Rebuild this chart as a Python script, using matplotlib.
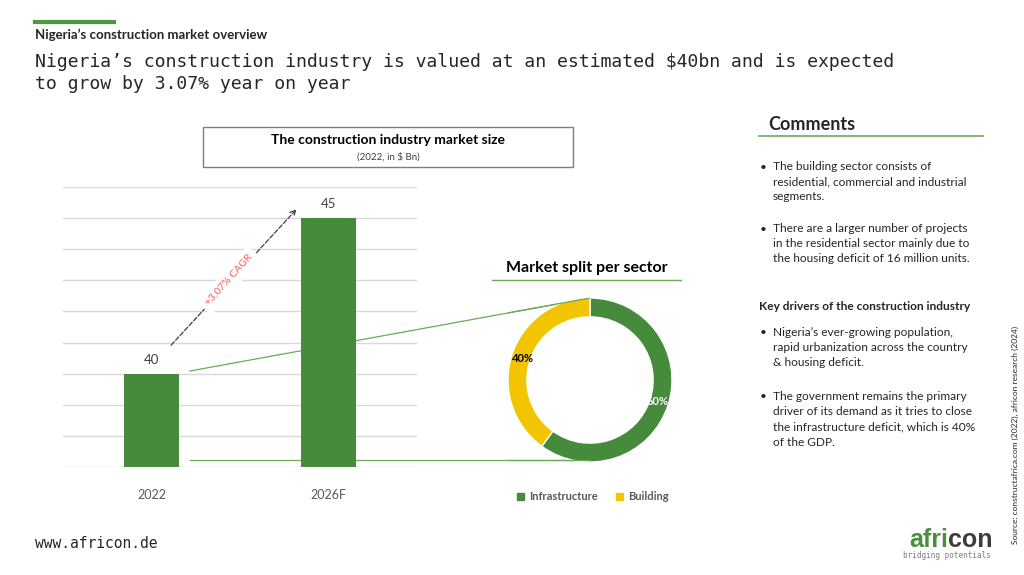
import matplotlib
matplotlib.use("Agg")
import matplotlib.pyplot as plt
from matplotlib.patches import Rectangle, Patch
from matplotlib.lines import Line2D
from matplotlib import font_manager

# data
years = ['2022', '2026F']
market_size = [40, 45]
sectors = ['Infrastructure', 'Building']
sector_share = [60, 40]
cagr_label = '+3.07% CAGR'

comments = [
    "The building sector consists of\nresidential, commercial and industrial\nsegments.",
    "There are a larger number of projects\nin the residential sector mainly due to\nthe housing deficit of 16 million units.",
]
drivers = [
    "Nigeria\u2019s ever-growing population,\nrapid urbanization across the country\n& housing deficit.",
    "The government remains the primary\ndriver of its demand as it tries to close\nthe infrastructure deficit, which is 40%\nof the GDP.",
]

green = '#468a3c'
yellow = '#f2c500'
light_green = '#6aab58'
dark = '#262626'
grey = '#595959'

names = {f.name for f in font_manager.fontManager.ttflist}
body_font = 'Liberation Sans Narrow' if 'Liberation Sans Narrow' in names else 'Lato'
plt.rcParams['font.family'] = [body_font, 'DejaVu Sans']

W, H = 1024, 575
fig = plt.figure(figsize=(W / 100, H / 100), dpi=100)


def fx(x):
    return x / W


def fy(y):
    return 1 - y / H


# header
fig.add_artist(Line2D([fx(35), fx(114)], [fy(22), fy(22)], color='#4a9a3c', lw=3))
fig.text(fx(35), fy(35), 'Nigeria\u2019s construction market overview', fontsize=9.5,
         fontweight='bold', color=dark, va='center')
fig.text(fx(35), fy(73), 'Nigeria\u2019s construction industry is valued at an estimated $40bn and is expected\nto grow by 3.07% year on year',
         fontsize=13.1, family='DejaVu Sans Mono', color=dark, va='center', linespacing=1.22)

# chart title box
fig.add_artist(Rectangle((fx(203), fy(167)), fx(573) - fx(203), fy(127) - fy(167),
                         transform=fig.transFigure, fill=False, edgecolor='#7f7f7f', lw=1))
fig.text(fx(388), fy(140), 'The construction industry market size', fontsize=10,
         fontweight='bold', color='black', ha='center', va='center')
fig.text(fx(388), fy(157), '(2022, in $ Bn)', fontsize=7, color='#404040', ha='center', va='center')

# bar chart
ax = fig.add_axes([fx(63), fy(467), fx(417) - fx(63), fy(187) - fy(467)])
ax.set_facecolor('none')
x = range(len(years))
bars = ax.bar(x, market_size, width=0.31, color=green, zorder=3)
ax.set_ylim(37, 46)
ax.set_xlim(-0.5, 1.5)
ax.set_yticks(range(37, 47))
ax.yaxis.grid(True, color='#d9d9d9', lw=1)
ax.set_axisbelow(True)
ax.tick_params(left=False, bottom=False, labelleft=False, pad=12)
ax.set_xticks(list(x))
ax.set_xticklabels(years, fontsize=9, color=grey)
for s in ax.spines.values():
    s.set_visible(False)
for xi, v in zip(x, market_size):
    ax.text(xi, v + 0.25, str(v), ha='center', va='bottom', fontsize=9.5, color='#404040')

ax.annotate('', xy=(0.83, 45.35), xytext=(0.1, 40.85),
            arrowprops=dict(arrowstyle='->', linestyle='--', color='#404040', lw=0.9), zorder=4)
ax.text(0.44, 43.0, cagr_label, rotation=48, ha='center', va='center', fontsize=7.5,
        color='#ff5a5a', zorder=5,
        bbox=dict(boxstyle='square,pad=0.5', facecolor='white', edgecolor='none'))

# donut
cx, cy, r = 590, 380, 82
ax2 = fig.add_axes([fx(cx - r), fy(cy + r), 2 * r / W, 2 * r / H])
ax2.set_facecolor('none')
wedges, texts, autotexts = ax2.pie(sector_share, colors=[green, yellow], startangle=90,
                                   counterclock=False, autopct='%d%%', pctdistance=0.86,
                                   wedgeprops=dict(width=0.23, edgecolor='white', linewidth=1),
                                   textprops=dict(fontsize=8, fontweight='bold'))
autotexts[0].set_color('white')
autotexts[1].set_color('black')
ax2.set_xlim(-1, 1)
ax2.set_ylim(-1, 1)

# connector lines: behind the bars, over the donut ring
connectors = [((190, 371), (590, 298)), ((190, 460), (590, 460))]
for (x0, y0), (x1, y1) in connectors:
    ax.add_line(Line2D([fx(x0), fx(x1)], [fy(y0), fy(y1)], transform=fig.transFigure,
                       color=light_green, lw=0.9, zorder=2, clip_on=False))
    ax2.add_line(Line2D([fx(x0), fx(x1)], [fy(y0), fy(y1)], transform=fig.transFigure,
                        color=light_green, lw=0.9, zorder=4))

fig.text(fx(587), fy(268), 'Market split per sector', fontsize=11.5, fontweight='bold',
         color='black', ha='center', va='center')
fig.add_artist(Line2D([fx(492), fx(681)], [fy(280), fy(280)], color=light_green, lw=1))

handles = [Patch(color=green, label=sectors[0]), Patch(color=yellow, label=sectors[1])]
leg = fig.legend(handles=handles, loc='center', bbox_to_anchor=(fx(593), fy(497)), ncol=2,
                 frameon=False, fontsize=8, handlelength=0.6, handleheight=0.6,
                 handletextpad=0.5, columnspacing=1.6)
for t in leg.get_texts():
    t.set_color(grey)
    t.set_fontweight('bold')

# comments panel
fig.text(fx(768), fy(125), 'Comments', fontsize=13, fontweight='bold', color=dark, va='center')
fig.add_artist(Line2D([fx(759), fx(983)], [fy(136), fy(136)], color=light_green, lw=1.2))


def bullets(items, starts):
    for txt, y0 in zip(items, starts):
        fig.text(fx(760), fy(y0), '\u2022', fontsize=8.5, color=dark, va='center')
        fig.text(fx(773), fy(y0 - 6.5), txt, fontsize=8.6, color=dark, va='top', linespacing=1.5)


bullets(comments, [167, 229])
fig.text(fx(759), fy(307), 'Key drivers of the construction industry', fontsize=8.6,
         fontweight='bold', color=dark, va='center')
bullets(drivers, [333, 397])

fig.text(fx(1015), fy(435), 'Source: constructafrica.com (2022), africon research (2024)',
         rotation=90, fontsize=6, color=dark, ha='center', va='center')

# footer
fig.text(fx(35), fy(543), 'www.africon.de', fontsize=10.5, family='DejaVu Sans Mono',
         color=dark, va='center')
fig.text(fx(948), fy(540), 'afri', fontsize=18, fontweight='bold', family='Liberation Sans',
         color='#4a8f3a', ha='right', va='center')
fig.text(fx(948), fy(540), 'con', fontsize=18, fontweight='bold', family='Liberation Sans',
         color='#3c3c3c', ha='left', va='center')
fig.text(fx(947), fy(555), 'bridging potentials', fontsize=5.5, family='DejaVu Sans Mono',
         color='#7f7f7f', ha='center', va='center')

fig.savefig('out.png', dpi=100)
